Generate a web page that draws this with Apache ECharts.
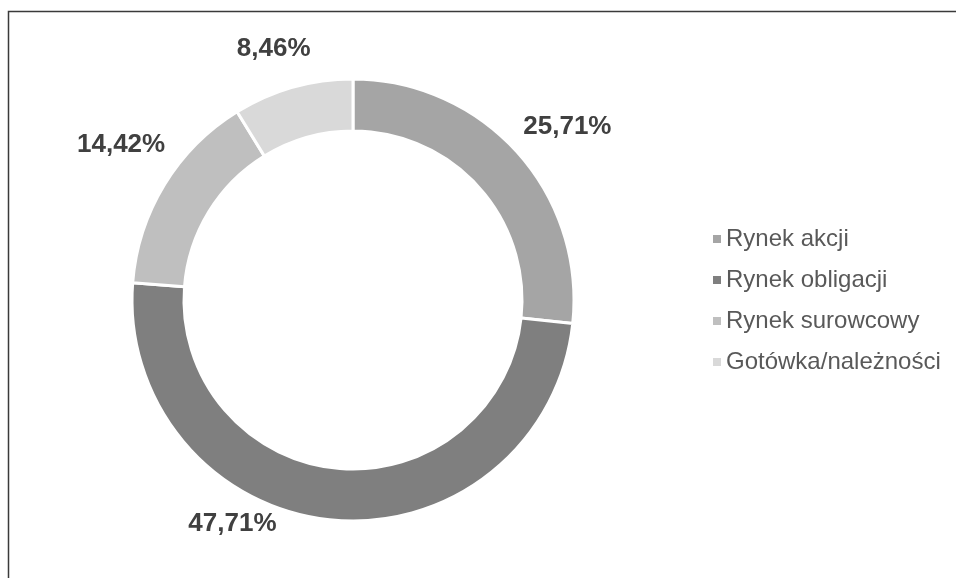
<!DOCTYPE html>
<html>
<head>
<meta charset="utf-8">
<script src="https://cdn.jsdelivr.net/npm/echarts@6/dist/echarts.min.js"></script>
<style>html,body{margin:0;padding:0;background:#fff}#c{width:956px;height:578px}</style>
</head>
<body>
<div id="c"></div>
<script>
var categories = ['Rynek akcji', 'Rynek obligacji', 'Rynek surowcowy', 'Gotówka/należności'];
var values = [25.71, 47.71, 14.42, 8.46];
var colors = ['#a5a5a5', '#7f7f7f', '#bfbfbf', '#d9d9d9'];
var labelShift = [[-8, -17], [-50, -8], [16, -34], [26, -27]];

var chart = echarts.init(document.getElementById('c'));
chart.setOption({
  animation: false,
  graphic: [{
    type: 'rect',
    shape: { x: 8.5, y: 11.5, width: 1000, height: 1000 },
    style: { fill: 'none', stroke: '#3a3a3a', lineWidth: 1.5 },
    silent: true
  }],
  legend: {
    orient: 'vertical',
    left: 708,
    top: 222,
    itemWidth: 8,
    itemHeight: 8,
    itemGap: 17,
    icon: 'rect',
    itemStyle: { borderWidth: 0 },
    textStyle: { fontFamily: 'Liberation Sans, Arial', fontSize: 24, color: '#595959', padding: [0, 0, 0, 0] },
    data: categories
  },
  series: [{
    type: 'pie',
    center: [353, 300],
    radius: [169, 221],
    startAngle: 90,
    clockwise: true,
    itemStyle: { borderColor: '#fff', borderWidth: 3 },
    label: {
      show: true,
      position: 'outside',
      formatter: function (p) { return p.value.toFixed(2).replace('.', ',') + '%'; },
      fontFamily: 'Liberation Sans, Arial',
      fontWeight: 'bold',
      fontSize: 26,
      color: '#404040'
    },
    labelLine: { show: false, length: 12, length2: 0 },
    labelLayout: function (p) {
      var s = labelShift[p.dataIndex];
      return { dx: s[0], dy: s[1] };
    },
    data: categories.map(function (c, i) {
      return { name: c, value: values[i], itemStyle: { color: colors[i] } };
    })
  }]
});
</script>
</body>
</html>
